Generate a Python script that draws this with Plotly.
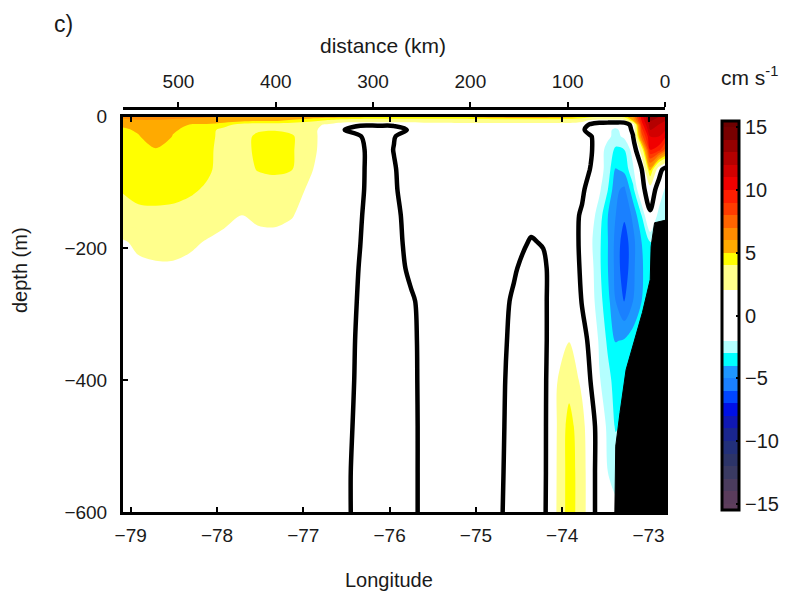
import plotly.graph_objects as go

# ---------------- data ----------------
longitude = [-79.11, -78.91, -78.71, -78.51, -78.32, -78.12, -77.92, -77.72, -77.53, -77.33,
             -77.13, -76.93, -76.74, -76.54, -76.34, -76.14, -75.95, -75.75, -75.55, -75.25,
             -74.96, -74.76, -74.56, -74.36, -74.22, -74.07, -73.92, -73.77, -73.67, -73.57,
             -73.47, -73.38, -73.28, -73.18, -73.08, -72.98, -72.88, -72.80]

depth = [0, -6, -12, -20, -30, -50, -80, -110, -150, -190, -230, -280, -340, -400, -470, -540, -600]

# alongshore velocity (cm/s), one row per depth (top to bottom)
v_0 = [6.2, 6.4, 6.4, 6.3, 6.2, 6.1, 6.0, 6.0, 5.9, 5.8, 5.7, 5.6, 5.5,
       5.4, 5.3, 5.2, 5.0, 5.0, 5.0, 5.2, 5.5, 5.8, 6.0, 6.0, 6.0, 5.8,
       5.5, 5.0, 4.5, 4.0, 4.0, 4.0, 4.5, 6.0, 10.5, 13.5, 13.0, 12.5]
v_6 = [5.8, 5.9, 5.9, 5.8, 5.7, 5.6, 5.5, 5.4, 5.2, 5.1, 4.8, 4.4, 3.8,
       3.2, 3.0, 3.0, 3.0, 3.0, 3.0, 3.0, 3.0, 3.0, 3.0, 3.0, 3.0, 3.0,
       3.0, 2.5, 1.5, 1.2, 1.2, 1.2, 1.5, 5.0, 10.0, 13.0, 12.5, 12.0]
v_12 = [5.3, 5.4, 5.5, 5.4, 5.0, 4.9, 4.5, 3.6, 3.4, 3.4, 3.3, 2.9, 1.8,
        0.5, 0.5, 0.5, 0.5, 0.5, 1.2, 1.3, 1.3, 1.3, 1.3, 1.3, 1.3, 1.3,
        1.3, 1.0, -0.3, -1.0, -1.5, -1.5, -1.5, 1.0, 9.5, 12.5, 12.0, 11.5]
v_20 = [4.7, 5.2, 5.8, 5.1, 4.8, 4.5, 3.6, 3.2, 3.8, 3.9, 3.6, 2.6, 1.4,
        0.2, -1.8, -1.8, -1.5, 0.5, 1.2, 1.2, 1.2, 1.2, 1.2, 1.2, 1.2, 1.2,
        1.2, 0.5, -1.2, -1.5, -1.8, -2.2, -1.6, 0.4, 8.5, 12.0, 11.5, 11.0]
v_30 = [4.8, 4.9, 5.8, 4.95, 4.8, 4.5, 3.5, 3.4, 4.3, 4.6, 4.2, 2.8, 1.2,
        1.0, 0.15, -1.35, -0.1, 1.0, 1.2, 1.2, 1.2, 1.2, 1.2, 1.2, 1.2, 1.2,
        1.2, 1.0, 0.2, -1.5, -1.8, -2.3, -1.8, -0.1, 7.5, 11.0, 11.0, 10.0]
v_50 = [4.7, 4.8, 4.9, 4.7, 4.6, 4.4, 3.4, 3.3, 4.4, 4.8, 4.2, 2.7, 1.2,
        1.0, 0.4, -1.2, 0.06, 1.0, 1.1, 1.1, 1.1, 1.1, 1.1, 1.1, 1.1, 1.1,
        1.1, 1.0, 0.3, -1.5, -2.4, -3.2, -3.0, -1.5, 3.0, 10.0, 9.5, 7.5]
v_80 = [4.6, 4.7, 4.7, 4.6, 4.5, 4.3, 3.4, 3.2, 4.1, 4.4, 4.05, 2.3, 1.0,
        1.0, 0.4, -1.2, -0.15, 1.0, 1.1, 1.1, 1.1, 1.1, 1.1, 1.1, 1.1, 1.1,
        1.1, 0.9, -0.1, -1.5, -2.5, -4.1, -3.7, -2.2, -0.1, 5.5, 0.8, -0.8]
v_110 = [4.05, 4.4, 4.5, 4.5, 4.3, 3.8, 3.1, 3.0, 3.0, 3.0, 2.9, 1.7, 0.9,
         1.0, 0.35, -1.2, -0.25, 1.0, 1.1, 1.1, 1.1, 1.1, 1.1, 1.1, 1.0, 1.0,
         1.0, 0.4, -1.0, -1.8, -3.0, -4.8, -5.2, -3.3, -0.6, 1.2, -0.8, -2.3]
v_150 = [3.6, 3.7, 3.7, 3.6, 3.3, 2.9, 2.4, 1.95, 2.3, 2.4, 2.1, 1.2, 0.8,
         0.9, 0.15, -1.2, -0.6, 0.9, 1.0, 1.0, 1.0, 1.0, 1.0, 0.9, 0.8, 1.0,
         1.0, -0.3, -1.5, -2.5, -4.0, -5.0, -5.8, -4.8, -3.0, -0.3, -2.5, -2.5]
v_190 = [1.8, 2.3, 2.5, 2.5, 2.3, 1.9, 1.6, 1.3, 1.5, 1.5, 1.2, 0.9, 0.8,
         0.8, 0.02, -1.2, -0.8, 0.8, 1.0, 1.0, 1.0, 1.0, 0.9, -0.2, 0.2, 1.0,
         0.8, -0.3, -1.8, -2.8, -4.0, -5.3, -6.6, -5.3, -4.0, -3.0, -3.0, -3.0]
v_230 = [1.5, 1.7, 1.8, 1.8, 1.6, 1.4, 1.3, 1.2, 1.2, 1.2, 1.1, 0.9, 0.8,
         0.9, -0.1, -1.2, -1.0, 0.5, 1.0, 1.0, 1.0, 1.0, 0.2, -0.8, -0.6, 1.65,
         0.8, -0.2, -1.6, -2.8, -4.0, -5.3, -6.7, -5.2, -4.2, -3.0, -3.0, -3.0]
v_280 = [1.2, 1.2, 1.2, 1.1, 1.1, 1.0, 1.0, 1.0, 1.0, 1.0, 1.0, 0.9, 0.8,
         0.8, -0.2, -1.2, -1.2, -0.3, 1.0, 1.0, 1.0, 0.75, -0.25, -1.0, -0.6, 1.6,
         1.3, -0.1, -1.5, -2.6, -3.7, -5.0, -6.1, -5.0, -4.0, -3.0, -3.0, -3.0]
v_340 = [1.2, 1.2, 1.2, 1.1, 1.1, 1.0, 1.0, 1.0, 1.0, 1.0, 1.0, 0.9, 0.8,
         0.7, -0.3, -1.2, -1.2, -0.5, 1.0, 1.0, 1.0, 0.6, -0.4, -1.0, -0.6, 1.6,
         1.95, 0.9, -0.6, -2.2, -3.2, -4.05, -3.9, -3.5, -3.0, -3.0, -3.0, -3.0]
v_400 = [1.2, 1.2, 1.2, 1.1, 1.1, 1.0, 1.0, 1.0, 1.0, 1.0, 1.0, 0.9, 0.8,
         0.65, -0.35, -1.2, -1.2, -0.55, 1.0, 1.0, 1.0, 0.5, -0.5, -1.0, -0.55, 1.85,
         3.2, 1.6, -0.05, -1.9, -2.7, -3.4, -3.2, -3.0, -3.0, -3.0, -3.0, -3.0]
v_470 = [1.2, 1.2, 1.2, 1.1, 1.1, 1.0, 1.0, 1.0, 1.0, 1.0, 1.0, 0.9, 0.8,
         0.55, -0.45, -1.2, -1.2, -0.6, 1.0, 1.0, 1.0, 0.45, -0.55, -1.0, -0.5, 1.85,
         4.8, 2.6, 0.7, -0.7, -2.4, -3.1, -2.8, -2.8, -2.8, -2.8, -2.8, -2.8]
v_540 = [1.2, 1.2, 1.2, 1.1, 1.1, 1.0, 1.0, 1.0, 1.0, 1.0, 1.0, 0.9, 0.8,
         0.45, -0.55, -1.2, -1.2, -0.6, 1.0, 1.0, 1.0, 0.4, -0.6, -1.0, -0.5, 1.9,
         4.9, 3.0, 0.6, -0.6, -2.0, -2.3, -2.3, -2.3, -2.3, -2.3, -2.3, -2.3]
v_600 = [1.2, 1.2, 1.2, 1.1, 1.1, 1.0, 1.0, 1.0, 1.0, 1.0, 1.0, 0.9, 0.8,
         0.45, -0.55, -1.2, -1.2, -0.6, 1.0, 1.0, 1.0, 0.35, -0.65, -1.0, -0.45, 1.95,
         4.9, 3.0, 0.6, -0.6, -1.5, -1.8, -2.0, -2.0, -2.0, -2.0, -2.0, -2.0]

velocity_rows = [v_0, v_6, v_12, v_20, v_30, v_50, v_80, v_110, v_150, v_190,
                 v_230, v_280, v_340, v_400, v_470, v_540, v_600]

# continental slope (bottom) read from the black mask
bottom_lon = [-72.80, -72.93, -72.97, -72.98, -73.07, -73.18, -73.26, -73.33, -73.38, -73.39]
bottom_depth = [-157, -161, -197, -247, -297, -349, -384, -449, -500, -600]

lon_ticks = [-79, -78, -77, -76, -75, -74, -73]
depth_ticks = [0, -200, -400, -600]
distance_ticks = [500, 400, 300, 200, 100, 0]
cbar_ticks = [15, 10, 5, 0, -5, -10, -15]

# ---------------- styling ----------------
FONT = "Liberation Sans, Arial, sans-serif"
TXT = "#1a1a1a"
vmin, vmax, step = -15, 15, 1
color_stops = [
    (-15.5, "#5e3d5c"), (-14.5, "#5a3c5c"), (-13.5, "#4b3c5e"), (-12.5, "#3a3a62"),
    (-11.5, "#2c3468"), (-10.5, "#22307a"), (-9.5, "#1a268e"), (-8.5, "#1018b4"),
    (-7.5, "#0010e6"), (-6.5, "#0046ff"), (-5.5, "#1a80ff"), (-4.5, "#1e96ff"),
    (-3.5, "#00ffff"), (-2.5, "#b4ffff"), (-1.5, "#ffffff"), (1.5, "#ffffff"),
    (2.5, "#ffff8c"), (3.5, "#ffff8c"), (4.5, "#ffff00"), (5.5, "#ffaa00"),
    (6.5, "#ff8c00"), (7.5, "#ff6400"), (8.5, "#ff3c00"), (9.5, "#ff1e00"),
    (10.5, "#f00000"), (11.5, "#d20000"), (12.5, "#b40000"), (13.5, "#960000"),
    (14.5, "#780000"), (15.5, "#6e0000"),
]
lo, hi = vmin - step / 2, vmax + step / 2
colorscale = [[(v - lo) / (hi - lo), c] for v, c in color_stops]

# plotly wants increasing y
y_vals = depth[::-1]
z_vals = velocity_rows[::-1]

SMOOTH = 0.9

fig = go.Figure()

fig.add_trace(go.Contour(
    x=longitude, y=y_vals, z=z_vals,
    colorscale=colorscale, autocontour=False,
    contours=dict(start=vmin, end=vmax, size=step, coloring="fill", showlines=False),
    line=dict(width=0, smoothing=SMOOTH),
    hoverinfo="skip",
    colorbar=dict(
        thickness=17, len=0.963, lenmode="fraction",
        x=1.105, xanchor="left", xpad=0,
        y=0.486, yanchor="middle", ypad=0,
        outlinewidth=3, outlinecolor="black",
        tickvals=cbar_ticks, ticks="inside", ticklen=4, tickwidth=2, tickcolor="black",
        tickfont=dict(family=FONT, size=20, color=TXT),
    ),
))

fig.add_trace(go.Contour(
    x=longitude, y=y_vals, z=z_vals,
    autocontour=False, showscale=False,
    contours=dict(start=0, end=0, size=1, coloring="none", showlines=True),
    line=dict(color="black", width=4.5, smoothing=SMOOTH),
    hoverinfo="skip",
))

land_x = bottom_lon + [bottom_lon[0]]
land_y = bottom_depth + [bottom_depth[-1]]
fig.add_trace(go.Scatter(
    x=land_x, y=land_y, mode="lines", fill="toself",
    fillcolor="black", line=dict(color="black", width=1),
    hoverinfo="skip", showlegend=False,
))

ML, MR, MT, MB = 123, 127, 108, 86
W, H = 792, 598
plot_w = W - ML - MR
plot_h = H - MT - MB
frame_top = 116.7
ydom_top = (H - MB - frame_top) / plot_h

axis_common = dict(showgrid=False, zeroline=False, linecolor="black", linewidth=3,
                   ticks="inside", ticklen=5, tickwidth=2, tickcolor="black",
                   tickfont=dict(family=FONT, size=19, color=TXT))

fig.update_layout(
    width=W, height=H,
    margin=dict(l=ML, r=MR, t=MT, b=MB, autoexpand=False),
    paper_bgcolor="white", plot_bgcolor="white",
    font=dict(family=FONT, color=TXT),
    showlegend=False,
    hovermode=False,
    xaxis=dict(range=[-79.089, -72.809], tickvals=lon_ticks, showline=True, mirror="ticks",
               domain=[0, 1], ticklabelstandoff=4, **axis_common),
    yaxis=dict(range=[-600, 0], tickvals=depth_ticks, showline=True, mirror="ticks",
               domain=[0, ydom_top], ticklabelstandoff=9, **axis_common),
    xaxis2=dict(overlaying="x", side="top", anchor="free", position=1,
                domain=[0, 540.3 / plot_w], range=[557, 0], tickvals=distance_ticks,
                showgrid=False, zeroline=False, showline=True, linecolor="black", linewidth=2.5,
                ticks="outside", ticklen=5, tickwidth=2, tickcolor="black",
                ticklabelstandoff=7,
                tickfont=dict(family=FONT, size=19, color=TXT)),
)

# invisible trace to activate the top distance axis
fig.add_trace(go.Scatter(x=distance_ticks, y=[None] * len(distance_ticks), xaxis="x2",
                         mode="markers", marker=dict(opacity=0), hoverinfo="skip",
                         showlegend=False))

def px(xp):
    return (xp - ML) / plot_w

def py(yp):
    return (H - MB - yp) / plot_h

annotations = [
    dict(text="c)", x=px(52), y=py(24), xanchor="left", yanchor="middle", font=dict(size=23)),
    dict(text="distance (km)", x=px(383), y=py(45), xanchor="center", yanchor="middle", font=dict(size=21)),
    dict(text="Longitude", x=px(389), y=py(580), xanchor="center", yanchor="middle", font=dict(size=20)),
    dict(text="depth (m)", x=px(20), y=py(270), xanchor="center", yanchor="middle", textangle=-90,
         font=dict(size=20)),
    dict(text="cm s<sup>-1</sup>", x=px(749), y=py(76), xanchor="center", yanchor="middle",
         font=dict(size=21)),
]
for a in annotations:
    a.update(xref="paper", yref="paper", showarrow=False)
    a["font"] = dict(family=FONT, color=TXT, **a["font"])
fig.update_layout(annotations=annotations)

fig.write_html("out.html", config={"displayModeBar": False},
               post_script="document.body.style.margin='0px';")
